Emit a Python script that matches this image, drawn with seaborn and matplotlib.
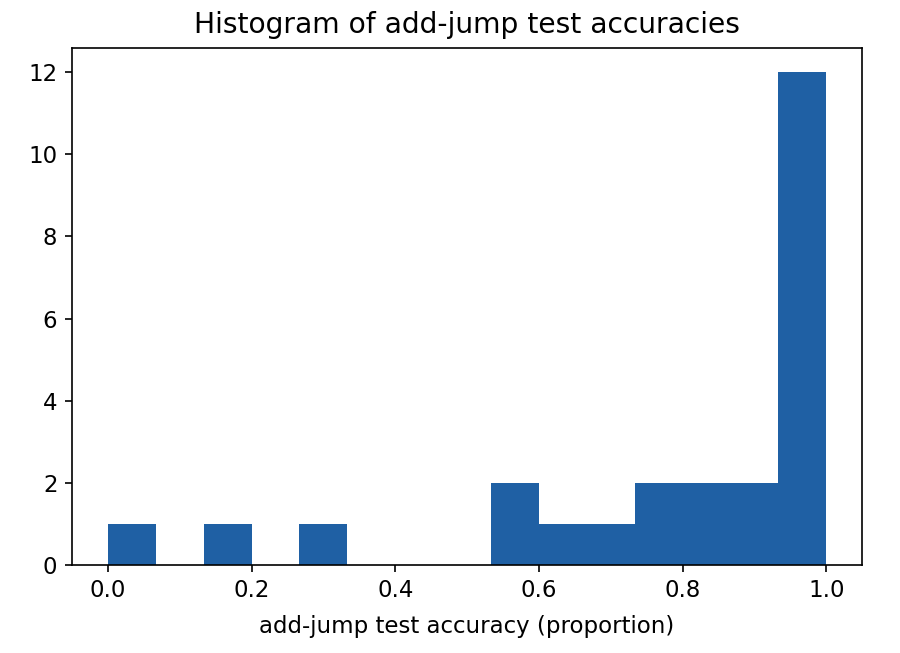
import matplotlib
matplotlib.use("Agg")
import matplotlib.pyplot as plt
import seaborn as sns

# accuracies of the 25 runs on the add-jump test split
accuracies = [
    0.0, 0.16, 0.30,
    0.55, 0.57, 0.62, 0.70,
    0.75, 0.78, 0.82, 0.85, 0.88, 0.91,
    0.94, 0.95, 0.96, 0.97, 0.97, 0.98, 0.98, 0.99, 0.99, 1.0, 1.0, 1.0,
]
n_bins = 15

plt.rcParams['font.family'] = ['DejaVu Sans']
plt.rcParams['font.size'] = 11

fig = plt.figure(figsize=(6, 653 / 150), dpi=150)
ax = fig.add_axes([0.08, 0.135, 0.878, 0.792])

sns.histplot(x=accuracies, bins=n_bins, binrange=(0, 1), ax=ax,
             color='#1f60a4', alpha=1, linewidth=0)

ax.set_title('Histogram of add-jump test accuracies', fontsize=13.5, pad=7)
ax.set_xlabel('add-jump test accuracy (proportion)', labelpad=6)
ax.set_ylabel('')
ax.set_yticks([0, 2, 4, 6, 8, 10, 12])
ax.set_xlim(-0.05, 1.05)
ax.set_ylim(0, 12.6)

plt.savefig('out.png', dpi=150)
plt.close()
